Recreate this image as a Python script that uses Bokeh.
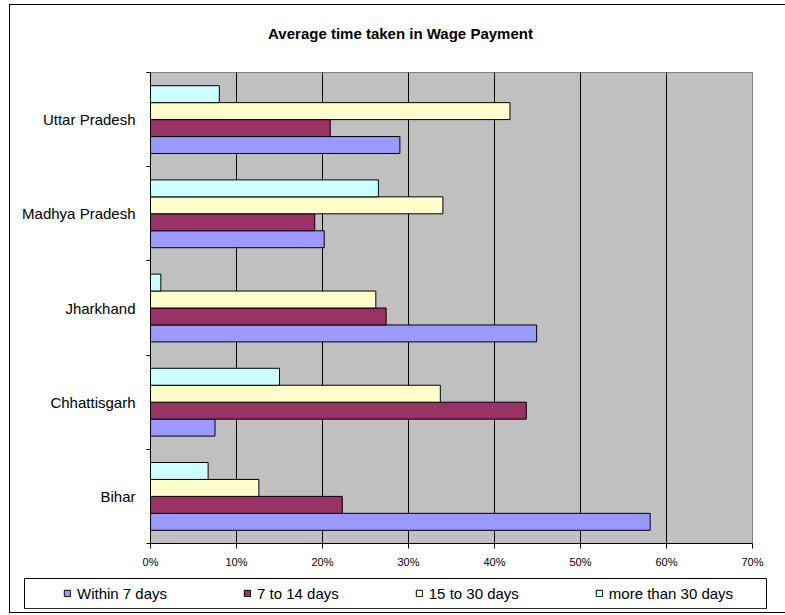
import numpy as np
from bokeh.plotting import figure
from bokeh.layouts import column, row
from bokeh.models import (FixedTicker, PrintfTickFormatter, Legend, LegendItem,
                          Range1d, Label)
from bokeh.embed import file_html
from bokeh.resources import INLINE

# ---- data (percent) ----
states = ["Bihar", "Chhattisgarh", "Jharkhand", "Madhya Pradesh", "Uttar Pradesh"]
series_names = ["Within 7 days", "7 to 14 days", "15 to 30 days", "more than 30 days"]
within_7 = [58.1, 7.5, 44.9, 20.2, 29.0]
days_7_14 = [22.3, 43.7, 27.4, 19.1, 20.9]
days_15_30 = [12.6, 33.7, 26.2, 34.0, 41.8]
more_30 = [6.7, 15.0, 1.2, 26.5, 8.0]
x_ticks = [0, 10, 20, 30, 40, 50, 60, 70]
title_text = "Average time taken in Wage Payment"

series = [within_7, days_7_14, days_15_30, more_30]
colors = ["#9999FF", "#993366", "#FFFFCC", "#CCFFFF"]
offsets = [-0.27, -0.09, 0.09, 0.27]
bar_h = 0.18

FONT = "Liberation Sans"

# ---------------- title strip ----------------
ph = figure(width=775, height=57, output_backend="svg", toolbar_location=None,
            x_range=Range1d(0, 775), y_range=Range1d(0, 57),
            x_axis_location=None, y_axis_location=None,
            min_border_left=0, min_border_right=0, min_border_top=0,
            min_border_bottom=0)
ph.outline_line_color = None
ph.background_fill_color = "white"
ph.border_fill_color = "white"
ph.xgrid.visible = False
ph.ygrid.visible = False
ph.add_layout(Label(x=390, y=29, text=title_text, text_align="center",
                    text_baseline="middle", text_font=FONT,
                    text_font_style="bold", text_font_size="15px",
                    text_color="black"))

# ---------------- main chart ----------------
p = figure(width=775, height=508, output_backend="svg", toolbar_location=None,
           x_range=Range1d(0, 70), y_range=Range1d(0, len(states)),
           min_border_left=140, min_border_right=33, min_border_top=10,
           min_border_bottom=24)

p.background_fill_color = "#C0C0C0"
p.border_fill_color = "white"
p.outline_line_color = "#808080"
p.outline_line_width = 1

centers = np.arange(len(states)) + 0.5
for vals, col, off in zip(series, colors, offsets):
    p.hbar(y=centers + off, right=vals, left=0, height=bar_h,
           fill_color=col, line_color="black", line_width=1)

# x axis
p.xaxis.ticker = FixedTicker(ticks=x_ticks)
p.xaxis.formatter = PrintfTickFormatter(format="%d%%")
p.xaxis.axis_line_color = "black"
p.xaxis.major_tick_line_color = "black"
p.xaxis.major_tick_out = 5
p.xaxis.major_tick_in = 0
p.xaxis.minor_tick_line_color = None
p.xaxis.major_label_standoff = 7
p.xaxis.major_label_text_font = FONT
p.xaxis.major_label_text_font_size = "11px"
p.xaxis.major_label_text_color = "black"

# y axis: labels at centres, tick marks at category boundaries
p.yaxis.ticker = FixedTicker(ticks=list(centers),
                             minor_ticks=list(range(len(states) + 1)))
p.yaxis.major_label_overrides = {float(c): s for c, s in zip(centers, states)}
p.yaxis.major_tick_line_color = None
p.yaxis.major_tick_out = 0
p.yaxis.major_tick_in = 0
p.yaxis.minor_tick_line_color = "black"
p.yaxis.minor_tick_out = 4
p.yaxis.minor_tick_in = 0
p.yaxis.axis_line_color = "black"
p.yaxis.major_label_standoff = 11
p.yaxis.major_label_text_font = FONT
p.yaxis.major_label_text_font_size = "15px"
p.yaxis.major_label_text_color = "black"

# grids
p.xgrid.ticker = FixedTicker(ticks=x_ticks)
p.xgrid.grid_line_color = "black"
p.xgrid.grid_line_width = 1
p.ygrid.grid_line_color = None

# ---------------- legend strip ----------------
pl = figure(width=775, height=42, output_backend="svg", toolbar_location=None,
            x_range=Range1d(0, 1), y_range=Range1d(0, 1),
            x_axis_location=None, y_axis_location=None,
            min_border_left=14, min_border_right=19, min_border_top=8,
            min_border_bottom=4)
pl.outline_line_color = "black"
pl.outline_line_width = 1
pl.background_fill_color = "white"
pl.border_fill_color = "white"
pl.xgrid.visible = False
pl.ygrid.visible = False

# swatch-only renderers (their single bar lies outside the strip's ranges)
leg_renderers = []
for col in colors:
    r = pl.hbar(y=[-5], right=[1], left=[0], height=0.5,
                fill_color=col, line_color="black", line_width=1)
    leg_renderers.append(r)

items = [LegendItem(label=n, renderers=[r]) for n, r in zip(series_names, leg_renderers)]
legend = Legend(items=items, orientation="horizontal", location=(33, 0),
                padding=6, spacing=76, glyph_width=8, glyph_height=8,
                label_standoff=6, label_height=18, label_text_font=FONT,
                label_text_font_size="15px", label_text_color="black",
                border_line_alpha=0, background_fill_alpha=0, margin=0)
pl.add_layout(legend, "center")

layout = column(row(ph, spacing=0), p, row(pl, spacing=0), spacing=0,
                styles={"margin-left": "9px", "margin-top": "4px",
                        "border-left": "1px solid black",
                        "border-top": "1px solid black",
                        "border-bottom": "1px solid black"})

open("out.html", "w").write(file_html(layout, INLINE))
